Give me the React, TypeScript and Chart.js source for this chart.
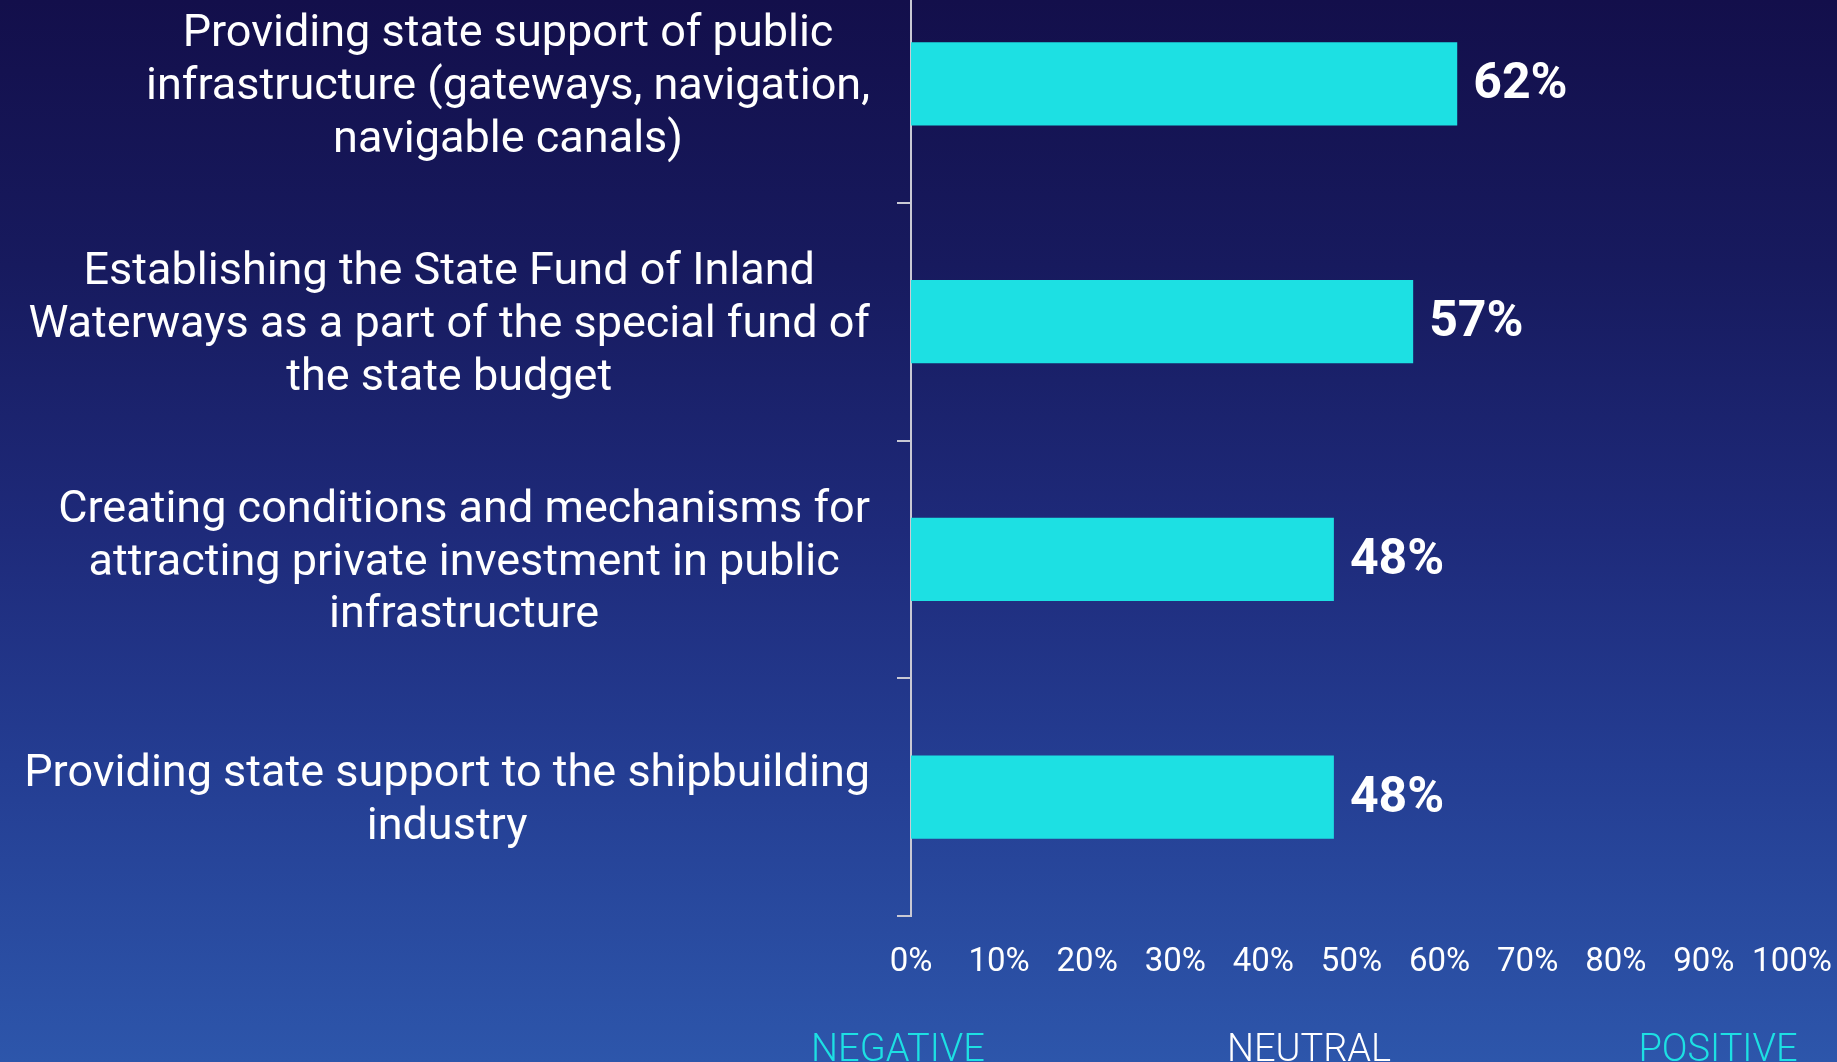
import React, { useEffect, useRef } from "react";
import { Chart, registerables } from "chart.js";

Chart.register(...registerables);

const categories: string[][] = [
  ["Providing state support of public", "infrastructure (gateways, navigation,", "navigable canals)"],
  ["Establishing the State Fund of Inland", "Waterways as a part of the special fund of", "the state budget"],
  ["Creating conditions and mechanisms for", "attracting private investment in public", "infrastructure"],
  ["Providing state support to the shipbuilding", "industry"],
];
const values: number[] = [62, 57, 48, 48];
const xTicks: number[] = [0, 10, 20, 30, 40, 50, 60, 70, 80, 90, 100];
const scaleLabels: string[] = ["NEGATIVE", "NEUTRAL", "POSITIVE"];
const scaleLabelColors: string[] = ["#1de0e3", "#ffffff", "#1de0e3"];

const W = 1837;
const H = 1062;
const TOP_OFF = 60;

export default function App() {
  const ref = useRef<HTMLCanvasElement | null>(null);

  useEffect(() => {
    if (!ref.current) return;
    const FONT = "Roboto, 'Noto Sans', sans-serif";

    const yLabelPlugin = {
      id: "yLabels",
      afterDraw(chart: any) {
        const scale = chart.scales.y;
        const ctx = chart.ctx;
        ctx.save();
        ctx.font = `400 45px ${FONT}`;
        ctx.fillStyle = "#ffffff";
        ctx.textBaseline = "middle";
        ctx.textAlign = "center";
        const lh = 52.7;
        categories.forEach((lines, i) => {
          const y = scale.getPixelForValue(i) + 4;
          const widest = Math.max(...lines.map((l) => ctx.measureText(l).width));
          const cx = scale.right - 41 - widest / 2;
          lines.forEach((l, j) => {
            ctx.fillText(l, cx, y + (j - (lines.length - 1) / 2) * lh);
          });
        });
        ctx.restore();
      },
    };

    const valuePlugin = {
      id: "values",
      afterDatasetsDraw(chart: any) {
        const ctx = chart.ctx;
        const meta = chart.getDatasetMeta(0);
        ctx.save();
        ctx.font = `700 50px ${FONT}`;
        ctx.fillStyle = "#ffffff";
        ctx.textBaseline = "middle";
        ctx.textAlign = "left";
        meta.data.forEach((bar: any, i: number) => {
          ctx.fillText(values[i] + "%", bar.x + 16, bar.y + 2);
        });
        ctx.restore();
      },
    };

    const bottomPlugin = {
      id: "bottomLabels",
      afterDraw(chart: any) {
        const ctx = chart.ctx;
        const xs = [898, 1309, 1718];
        ctx.save();
        ctx.font = `300 38px ${FONT}`;
        ctx.textBaseline = "alphabetic";
        ctx.textAlign = "center";
        scaleLabels.forEach((t, i) => {
          ctx.fillStyle = scaleLabelColors[i];
          ctx.fillText(t, xs[i], 1061 + TOP_OFF);
        });
        ctx.restore();
      },
    };

    const chart = new Chart(ref.current, {
      type: "bar",
      data: {
        labels: categories.map((c) => c.join(" ")),
        datasets: [
          {
            data: values,
            backgroundColor: "#1de0e3",
            borderWidth: 0,
            barPercentage: 0.35,
            categoryPercentage: 1,
          },
        ],
      },
      options: {
        indexAxis: "y",
        animation: false,
        responsive: false,
        maintainAspectRatio: false,
        layout: { padding: { top: TOP_OFF - 35, right: 45, left: 0, bottom: 0 } },
        plugins: {
          legend: { display: false },
          tooltip: { enabled: false },
          title: { display: false },
        },
        scales: {
          x: {
            min: 0,
            max: 100,
            afterBuildTicks: (s: any) => {
              s.ticks = xTicks.map((v) => ({ value: v }));
            },
            afterFit: (s: any) => {
              s.height = H - 916;
              s.paddingLeft = 0;
              s.paddingRight = 0;
            },
            grid: { display: false, drawTicks: false },
            border: { display: false },
            ticks: {
              color: "#ffffff",
              font: { family: FONT, size: 33, weight: "400" },
              padding: 27,
              maxRotation: 0,
              autoSkip: false,
              callback: (v: any) => v + "%",
            },
          },
          y: {
            afterFit: (s: any) => {
              s.width = 911;
            },
            grid: {
              display: true,
              drawOnChartArea: false,
              drawTicks: true,
              tickLength: 14,
              color: "#c9c9d4",
              lineWidth: 2,
              offset: true,
            },
            border: { display: true, color: "#c9c9d4", width: 2 },
            ticks: { display: false },
          },
        },
      },
      plugins: [yLabelPlugin, valuePlugin, bottomPlugin],
    } as any);

    return () => chart.destroy();
  }, []);

  return (
    <div
      style={{
        position: "fixed",
        left: 0,
        top: 0,
        width: W,
        height: H,
        overflow: "hidden",
        background:
          "linear-gradient(180deg, #130f4b 0%, #171a5e 25%, #1e2a7a 50%, #243d92 72%, #2d56ab 100%)",
      }}
    >
      <canvas
        ref={ref}
        width={W}
        height={H + TOP_OFF}
        style={{ position: "absolute", left: 0, top: -TOP_OFF, width: W, height: H + TOP_OFF }}
      />
    </div>
  );
}
